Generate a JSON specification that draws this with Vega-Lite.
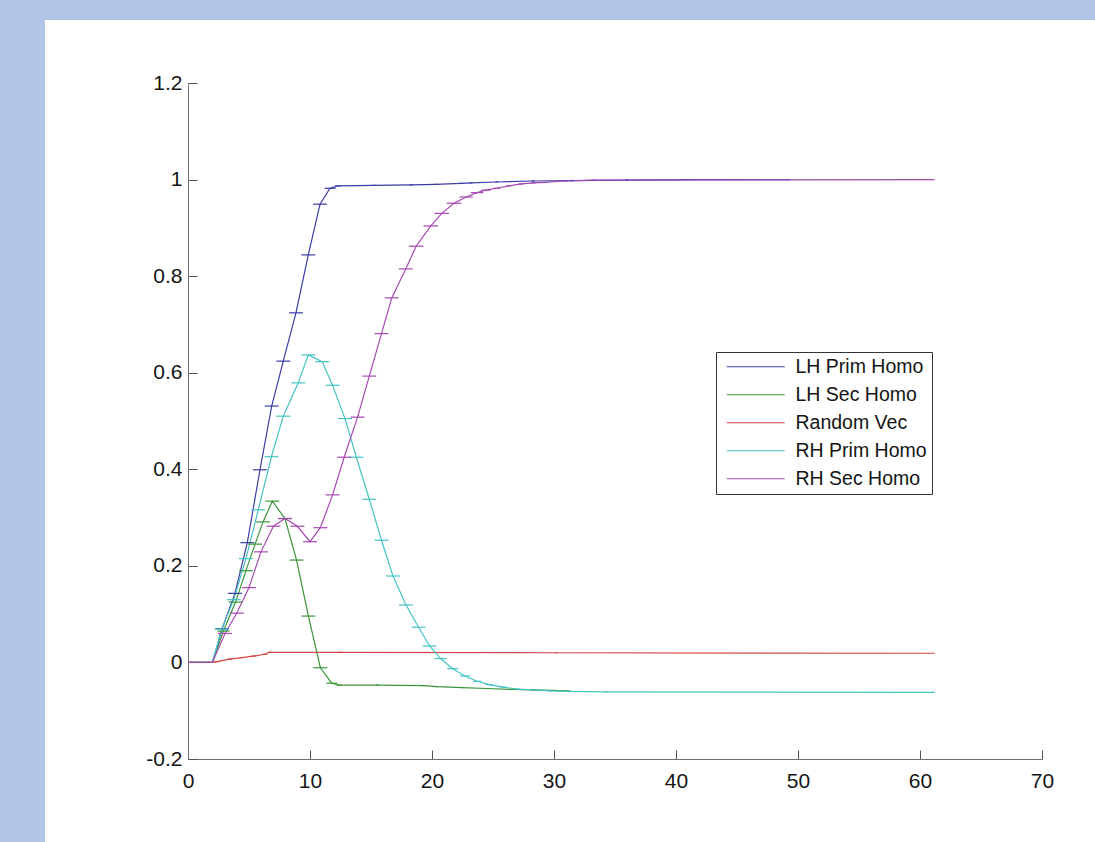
{
  "$schema": "https://vega.github.io/schema/vega-lite/v6.json",
  "width": 1050,
  "height": 822,
  "autosize": "none",
  "padding": {"left": 45, "top": 20, "right": 0, "bottom": 0},
  "background": "#b0c5e8",
  "config": {
    "view": {"fill": "white", "stroke": null},
    "font": "Liberation Sans"
  },
  "data": {
    "values": [
      {"s": "LH Prim Homo", "x": 0, "y": 0, "e": 0},
      {"s": "LH Prim Homo", "x": 2, "y": 0, "e": 0},
      {"s": "LH Prim Homo", "x": 2.8, "y": 0.07, "e": 0.55},
      {"s": "LH Prim Homo", "x": 3.85, "y": 0.143, "e": 0.57},
      {"s": "LH Prim Homo", "x": 4.86, "y": 0.248, "e": 0.57},
      {"s": "LH Prim Homo", "x": 5.9, "y": 0.399, "e": 0.57},
      {"s": "LH Prim Homo", "x": 6.86, "y": 0.531, "e": 0.57},
      {"s": "LH Prim Homo", "x": 7.81, "y": 0.624, "e": 0.57},
      {"s": "LH Prim Homo", "x": 8.85, "y": 0.724, "e": 0.57},
      {"s": "LH Prim Homo", "x": 9.86, "y": 0.844, "e": 0.57},
      {"s": "LH Prim Homo", "x": 10.82, "y": 0.949, "e": 0.57},
      {"s": "LH Prim Homo", "x": 11.64, "y": 0.982, "e": 0.45},
      {"s": "LH Prim Homo", "x": 12.3, "y": 0.987, "e": 0.25},
      {"s": "LH Prim Homo", "x": 15.2, "y": 0.988, "e": 0.15},
      {"s": "LH Prim Homo", "x": 18.3, "y": 0.989, "e": 0.15},
      {"s": "LH Prim Homo", "x": 20.3, "y": 0.99, "e": 0.15},
      {"s": "LH Prim Homo", "x": 22.4, "y": 0.992, "e": 0.15},
      {"s": "LH Prim Homo", "x": 23.2, "y": 0.993, "e": 0.12},
      {"s": "LH Prim Homo", "x": 25.3, "y": 0.995, "e": 0.12},
      {"s": "LH Prim Homo", "x": 28.3, "y": 0.997, "e": 0.12},
      {"s": "LH Prim Homo", "x": 31.5, "y": 0.998, "e": 0.1},
      {"s": "LH Prim Homo", "x": 36, "y": 0.999, "e": 0.1},
      {"s": "LH Prim Homo", "x": 42, "y": 1.0, "e": 0},
      {"s": "LH Prim Homo", "x": 49.4, "y": 1.0, "e": 0},

      {"s": "LH Sec Homo", "x": 0, "y": 0, "e": 0},
      {"s": "LH Sec Homo", "x": 2, "y": 0, "e": 0},
      {"s": "LH Sec Homo", "x": 2.9, "y": 0.065, "e": 0.5},
      {"s": "LH Sec Homo", "x": 3.9, "y": 0.125, "e": 0.57},
      {"s": "LH Sec Homo", "x": 4.75, "y": 0.19, "e": 0.57},
      {"s": "LH Sec Homo", "x": 5.5, "y": 0.245, "e": 0.57},
      {"s": "LH Sec Homo", "x": 6.15, "y": 0.291, "e": 0.57},
      {"s": "LH Sec Homo", "x": 6.91, "y": 0.334, "e": 0.57},
      {"s": "LH Sec Homo", "x": 7.95, "y": 0.298, "e": 0.57},
      {"s": "LH Sec Homo", "x": 8.9, "y": 0.212, "e": 0.57},
      {"s": "LH Sec Homo", "x": 9.87, "y": 0.096, "e": 0.57},
      {"s": "LH Sec Homo", "x": 10.85, "y": -0.011, "e": 0.57},
      {"s": "LH Sec Homo", "x": 11.78, "y": -0.043, "e": 0.45},
      {"s": "LH Sec Homo", "x": 12.4, "y": -0.047, "e": 0.2},
      {"s": "LH Sec Homo", "x": 15.5, "y": -0.047, "e": 0.12},
      {"s": "LH Sec Homo", "x": 19.3, "y": -0.048, "e": 0.12},
      {"s": "LH Sec Homo", "x": 20.4, "y": -0.05, "e": 0.12},
      {"s": "LH Sec Homo", "x": 22.5, "y": -0.052, "e": 0.12},
      {"s": "LH Sec Homo", "x": 24.5, "y": -0.054, "e": 0.12},
      {"s": "LH Sec Homo", "x": 26.5, "y": -0.056, "e": 0.12},
      {"s": "LH Sec Homo", "x": 28.3, "y": -0.057, "e": 0.12},
      {"s": "LH Sec Homo", "x": 31.3, "y": -0.059, "e": 0},

      {"s": "Random Vec", "x": 0, "y": 0, "e": 0},
      {"s": "Random Vec", "x": 2, "y": 0, "e": 0},
      {"s": "Random Vec", "x": 2.35, "y": 0.0015, "e": 0.2},
      {"s": "Random Vec", "x": 3.44, "y": 0.007, "e": 0.2},
      {"s": "Random Vec", "x": 4.4, "y": 0.01, "e": 0.2},
      {"s": "Random Vec", "x": 5.35, "y": 0.013, "e": 0.2},
      {"s": "Random Vec", "x": 6.3, "y": 0.017, "e": 0.2},
      {"s": "Random Vec", "x": 6.67, "y": 0.021, "e": 0.15},
      {"s": "Random Vec", "x": 12.5, "y": 0.021, "e": 0.15},
      {"s": "Random Vec", "x": 30.2, "y": 0.02, "e": 0.12},
      {"s": "Random Vec", "x": 61.2, "y": 0.019, "e": 0},

      {"s": "RH Prim Homo", "x": 0, "y": 0, "e": 0},
      {"s": "RH Prim Homo", "x": 2, "y": 0, "e": 0},
      {"s": "RH Prim Homo", "x": 2.76, "y": 0.069, "e": 0.57},
      {"s": "RH Prim Homo", "x": 3.75, "y": 0.13, "e": 0.57},
      {"s": "RH Prim Homo", "x": 4.75, "y": 0.215, "e": 0.57},
      {"s": "RH Prim Homo", "x": 5.76, "y": 0.316, "e": 0.57},
      {"s": "RH Prim Homo", "x": 6.84, "y": 0.426, "e": 0.57},
      {"s": "RH Prim Homo", "x": 7.81, "y": 0.51, "e": 0.57},
      {"s": "RH Prim Homo", "x": 9.04, "y": 0.579, "e": 0.57},
      {"s": "RH Prim Homo", "x": 9.86, "y": 0.637, "e": 0.57},
      {"s": "RH Prim Homo", "x": 11.0, "y": 0.623, "e": 0.57},
      {"s": "RH Prim Homo", "x": 11.85, "y": 0.574, "e": 0.57},
      {"s": "RH Prim Homo", "x": 12.87, "y": 0.505, "e": 0.57},
      {"s": "RH Prim Homo", "x": 13.8, "y": 0.425, "e": 0.57},
      {"s": "RH Prim Homo", "x": 14.86, "y": 0.338, "e": 0.57},
      {"s": "RH Prim Homo", "x": 15.86, "y": 0.253, "e": 0.57},
      {"s": "RH Prim Homo", "x": 16.8, "y": 0.179, "e": 0.57},
      {"s": "RH Prim Homo", "x": 17.87, "y": 0.119, "e": 0.57},
      {"s": "RH Prim Homo", "x": 18.9, "y": 0.073, "e": 0.57},
      {"s": "RH Prim Homo", "x": 19.8, "y": 0.034, "e": 0.57},
      {"s": "RH Prim Homo", "x": 20.7, "y": 0.008, "e": 0.5},
      {"s": "RH Prim Homo", "x": 21.7, "y": -0.013, "e": 0.45},
      {"s": "RH Prim Homo", "x": 22.7, "y": -0.028, "e": 0.4},
      {"s": "RH Prim Homo", "x": 23.7, "y": -0.039, "e": 0.35},
      {"s": "RH Prim Homo", "x": 24.7, "y": -0.046, "e": 0.3},
      {"s": "RH Prim Homo", "x": 25.8, "y": -0.051, "e": 0.25},
      {"s": "RH Prim Homo", "x": 27, "y": -0.055, "e": 0.2},
      {"s": "RH Prim Homo", "x": 28.3, "y": -0.057, "e": 0.15},
      {"s": "RH Prim Homo", "x": 29.7, "y": -0.059, "e": 0.12},
      {"s": "RH Prim Homo", "x": 31.3, "y": -0.06, "e": 0.1},
      {"s": "RH Prim Homo", "x": 34.3, "y": -0.061, "e": 0.1},
      {"s": "RH Prim Homo", "x": 61.2, "y": -0.062, "e": 0},

      {"s": "RH Sec Homo", "x": 0, "y": 0, "e": 0},
      {"s": "RH Sec Homo", "x": 2, "y": 0, "e": 0},
      {"s": "RH Sec Homo", "x": 3.03, "y": 0.06, "e": 0.57},
      {"s": "RH Sec Homo", "x": 3.99, "y": 0.102, "e": 0.57},
      {"s": "RH Sec Homo", "x": 5.0, "y": 0.155, "e": 0.57},
      {"s": "RH Sec Homo", "x": 5.98, "y": 0.229, "e": 0.57},
      {"s": "RH Sec Homo", "x": 7.0, "y": 0.282, "e": 0.57},
      {"s": "RH Sec Homo", "x": 7.95, "y": 0.298, "e": 0.57},
      {"s": "RH Sec Homo", "x": 8.97, "y": 0.282, "e": 0.57},
      {"s": "RH Sec Homo", "x": 10.0, "y": 0.25, "e": 0.57},
      {"s": "RH Sec Homo", "x": 10.85, "y": 0.279, "e": 0.57},
      {"s": "RH Sec Homo", "x": 11.85, "y": 0.347, "e": 0.57},
      {"s": "RH Sec Homo", "x": 12.8, "y": 0.425, "e": 0.57},
      {"s": "RH Sec Homo", "x": 13.9, "y": 0.508, "e": 0.57},
      {"s": "RH Sec Homo", "x": 14.86, "y": 0.593, "e": 0.57},
      {"s": "RH Sec Homo", "x": 15.86, "y": 0.681, "e": 0.57},
      {"s": "RH Sec Homo", "x": 16.7, "y": 0.755, "e": 0.57},
      {"s": "RH Sec Homo", "x": 17.85, "y": 0.815, "e": 0.57},
      {"s": "RH Sec Homo", "x": 18.7, "y": 0.862, "e": 0.6},
      {"s": "RH Sec Homo", "x": 19.9, "y": 0.904, "e": 0.6},
      {"s": "RH Sec Homo", "x": 20.8, "y": 0.93, "e": 0.6},
      {"s": "RH Sec Homo", "x": 21.8, "y": 0.951, "e": 0.6},
      {"s": "RH Sec Homo", "x": 22.8, "y": 0.964, "e": 0.55},
      {"s": "RH Sec Homo", "x": 23.7, "y": 0.973, "e": 0.5},
      {"s": "RH Sec Homo", "x": 24.4, "y": 0.978, "e": 0.4},
      {"s": "RH Sec Homo", "x": 25.3, "y": 0.982, "e": 0.3},
      {"s": "RH Sec Homo", "x": 26.3, "y": 0.987, "e": 0.22},
      {"s": "RH Sec Homo", "x": 27.3, "y": 0.991, "e": 0.2},
      {"s": "RH Sec Homo", "x": 28.3, "y": 0.993, "e": 0.18},
      {"s": "RH Sec Homo", "x": 29.3, "y": 0.994, "e": 0.15},
      {"s": "RH Sec Homo", "x": 30.2, "y": 0.996, "e": 0.15},
      {"s": "RH Sec Homo", "x": 31.0, "y": 0.997, "e": 0.12},
      {"s": "RH Sec Homo", "x": 33.2, "y": 0.999, "e": 0.1},
      {"s": "RH Sec Homo", "x": 61.2, "y": 1.0, "e": 0}
    ]
  },
  "encoding": {
    "x": {
      "field": "x", "type": "quantitative",
      "scale": {"domain": [0, 70], "range": [143, 997], "nice": false, "zero": false},
      "axis": {
        "title": null, "grid": false, "values": [0, 10, 20, 30, 40, 50, 60, 70],
        "format": "d", "offset": -83, "tickSize": -9, "labelPadding": 20,
        "domainColor": "#707070", "tickColor": "#505050", "domainWidth": 1, "tickWidth": 1,
        "labelFontSize": 21, "labelColor": "#151515", "labelFont": "Liberation Sans",
        "labelFlush": false
      }
    },
    "y": {
      "field": "y", "type": "quantitative",
      "scale": {"domain": [-0.2, 1.2], "range": [739, 63], "nice": false, "zero": false},
      "axis": {
        "title": null, "grid": false, "values": [-0.2, 0, 0.2, 0.4, 0.6, 0.8, 1, 1.2],
        "format": "~g", "labelExpr": "replace(datum.label, '\u2212', '-')",
        "offset": -143, "tickSize": -9, "labelPadding": 15,
        "domainColor": "#707070", "tickColor": "#505050", "domainWidth": 1, "tickWidth": 1,
        "labelFontSize": 21, "labelColor": "#151515", "labelFont": "Liberation Sans",
        "labelFlush": false
      }
    },
    "color": {
      "field": "s", "type": "nominal",
      "scale": {
        "domain": ["LH Prim Homo", "LH Sec Homo", "Random Vec", "RH Prim Homo", "RH Sec Homo"],
        "range": ["#3c3ca8", "#3a963a", "#d04848", "#45c4c4", "#a848b4"]
      },
      "legend": {
        "title": null, "orient": "none", "legendX": 671, "legendY": 332,
        "symbolType": "M-0.5,0H6.75", "symbolSize": 256, "symbolStrokeWidth": 1.2,
        "symbolFillColor": "transparent",
        "strokeColor": "#333333", "fillColor": "white", "padding": 5,
        "labelFontSize": 19.5, "labelFont": "Liberation Sans", "labelColor": "#151515",
        "labelOffset": 55, "rowPadding": 7
      }
    }
  },
  "layer": [
    {"mark": {"type": "line", "strokeWidth": 1.2, "clip": false}},
    {
      "mark": {"type": "errorbar", "rule": {"strokeWidth": 1.2}},
      "encoding": {
        "xError": {"field": "e"}
      }
    }
  ]
}
